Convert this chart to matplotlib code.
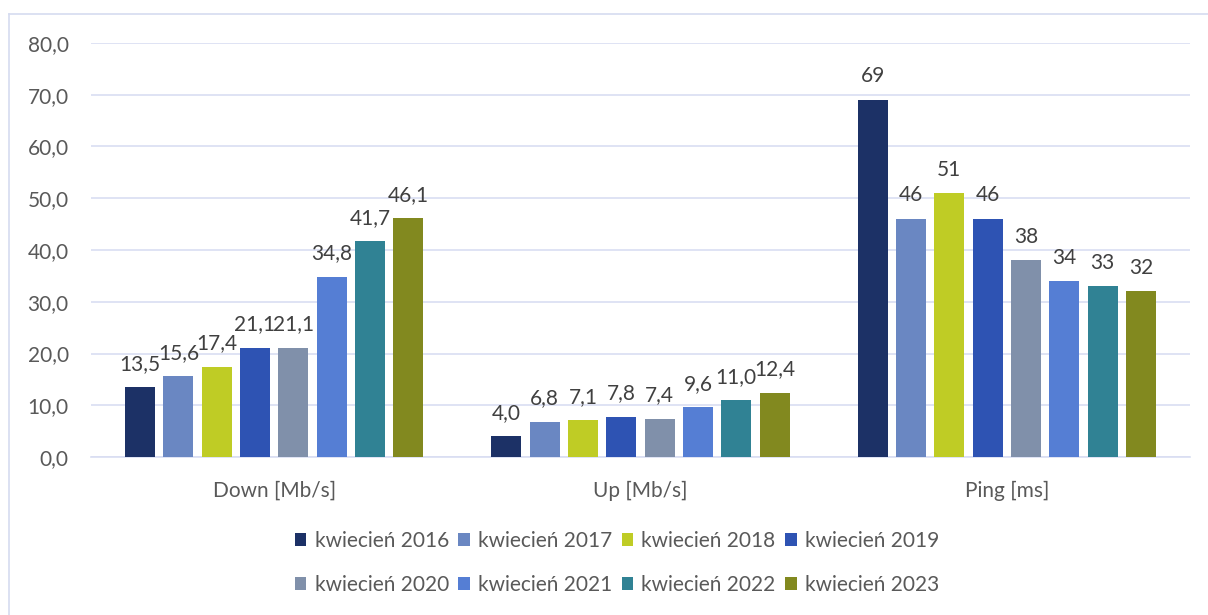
import matplotlib
matplotlib.use("Agg")
import matplotlib.pyplot as plt
import numpy as np
from matplotlib.lines import Line2D

categories = ['Down [Mb/s]', 'Up [Mb/s]', 'Ping [ms]']
series = ['kwiecień 2016', 'kwiecień 2017', 'kwiecień 2018', 'kwiecień 2019',
          'kwiecień 2020', 'kwiecień 2021', 'kwiecień 2022', 'kwiecień 2023']
values = [
    [13.5, 4.0, 69],
    [15.6, 6.8, 46],
    [17.4, 7.1, 51],
    [21.1, 7.8, 46],
    [21.1, 7.4, 38],
    [34.8, 9.6, 34],
    [41.7, 11.0, 33],
    [46.1, 12.4, 32],
]
colors = ['#1C3166', '#6A87C2', '#BFCC25', '#2E53B3',
          '#8090AA', '#557ED4', '#308294', '#82891F']

plt.rcParams['font.family'] = ['Lato', 'DejaVu Sans']
txt = '#595959'
grid = '#D9DEF2'

W, H = 1208, 615
fig = plt.figure(figsize=(W / 100, H / 100), dpi=100)
ax = fig.add_axes([91 / W, 1 - 457 / H, 1099 / W, 414 / H])

x = np.arange(len(categories))
step = 0.1046
width = 0.082
handles = []
for i, (name, vals) in enumerate(zip(series, values)):
    pos = x + (i - 3.5) * step
    bars = ax.bar(pos, vals, width, color=colors[i], label=name, zorder=3)
    handles.append(bars)
    for j, (p, v) in enumerate(zip(pos, vals)):
        lab = str(int(v)) if j == 2 else ('%.1f' % v).replace('.', ',')
        ax.text(p, v + 2.6, lab, ha='center', va='bottom', fontsize=15, color='#404040')

ax.set_xlim(-0.5, 2.5)
ax.set_ylim(0, 80)
ticks = np.arange(0, 81, 10)
ax.set_yticks(ticks)
ax.set_yticklabels([('%.1f' % t).replace('.', ',') for t in ticks])
ax.set_xticks(x)
ax.set_xticklabels(categories)
ax.tick_params(axis='both', length=0, labelsize=15, colors=txt)
ax.tick_params(axis='y', pad=16)
ax.tick_params(axis='x', pad=17)
ax.grid(axis='y', color=grid, linewidth=1.2, zorder=0)
for s in ['top', 'right', 'left']:
    ax.spines[s].set_visible(False)
ax.spines['bottom'].set_color(grid)
ax.spines['bottom'].set_linewidth(1.2)

# legend filled row by row (4 columns x 2 rows)
order = [0, 4, 1, 5, 2, 6, 3, 7]
leg = fig.legend([handles[k] for k in order], [series[k] for k in order],
                 loc='center', bbox_to_anchor=(617 / W, 1 - 563 / H), ncol=4,
                 frameon=False, fontsize=15, handlelength=0.55, handleheight=0.55,
                 handletextpad=0.4, columnspacing=0.45, labelspacing=1.15)
for t in leg.get_texts():
    t.set_color(txt)

# chart frame: only top and left edges visible
fig.lines.append(Line2D([9 / W, 1], [1 - 14 / H, 1 - 14 / H], transform=fig.transFigure,
                        color='#D6DCF0', linewidth=1.2))
fig.lines.append(Line2D([9 / W, 9 / W], [0, 1 - 14 / H], transform=fig.transFigure,
                        color='#D6DCF0', linewidth=1.2))

fig.savefig('out.png', dpi=100)
